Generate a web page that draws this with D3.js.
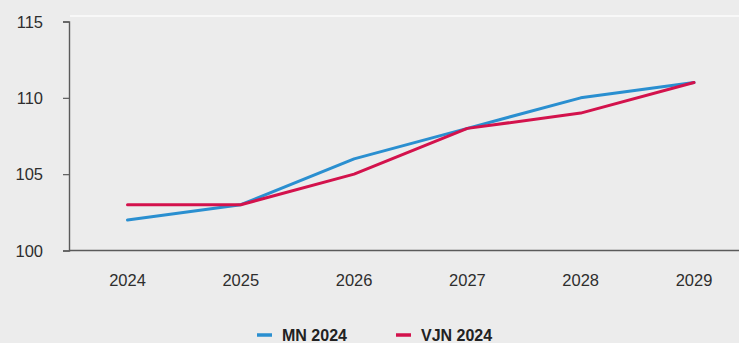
<!DOCTYPE html>
<html><head><meta charset="utf-8">
<script src="https://cdn.jsdelivr.net/npm/d3@7"></script>
<style>
html,body{margin:0;padding:0;background:#ececec;}
svg{display:block;font-family:"Liberation Sans",Arial,sans-serif;}
</style></head>
<body><svg id="c" width="739" height="343"></svg>
<script>
const years = ["2024","2025","2026","2027","2028","2029"];
const mn2024 = [102, 103, 106, 108, 110, 111];
const vjn2024 = [103, 103, 105, 108, 109, 111];
const yTicks = [100, 105, 110, 115];
const seriesNames = ["MN 2024", "VJN 2024"];
const seriesColors = ["#2a8fd0", "#d3124c"];

const svg = d3.select("#c");
svg.append("rect").attr("width",739).attr("height",343).attr("fill","#ececec");
svg.append("line").attr("x1",70).attr("x2",739).attr("y1",16).attr("y2",16)
  .attr("stroke","#f8f8f8").attr("stroke-width",2);

const x = d3.scalePoint().domain(years).range([127.5, 694]);
const y = d3.scaleLinear().domain([100, 115]).range([250.5, 21.5]);

const yAxis = svg.append("g").attr("transform","translate(69,0)")
  .call(d3.axisLeft(y).tickValues(yTicks).tickSize(6).tickPadding(20));
yAxis.select(".domain").attr("stroke","#5a5a5a").attr("stroke-width",1.4);
yAxis.selectAll(".tick line").attr("stroke","#5a5a5a").attr("stroke-width",1.2);
yAxis.selectAll(".tick text").attr("font-size",16.5).attr("fill","#2e2e2e")
  .attr("font-family","'Liberation Sans',Arial,sans-serif").attr("dy","0.35em");

svg.append("line").attr("x1",69).attr("x2",739).attr("y1",y(100)).attr("y2",y(100))
  .attr("stroke","#5a5a5a").attr("stroke-width",1.4);
svg.append("g").selectAll("text").data(years).join("text")
  .attr("x",d=>x(d)).attr("y",286).attr("text-anchor","middle")
  .attr("font-size",16.5).attr("fill","#2e2e2e").text(d=>d);

const line = d3.line().x((d,i)=>x(years[i])).y(d=>y(d));
[mn2024, vjn2024].forEach((s,i)=>{
  svg.append("path").datum(s).attr("d",line).attr("fill","none")
    .attr("stroke",seriesColors[i]).attr("stroke-width",3)
    .attr("stroke-linejoin","round").attr("stroke-linecap","round");
});

const legX = [257, 396];
seriesNames.forEach((n,i)=>{
  svg.append("line").attr("x1",legX[i]).attr("x2",legX[i]+15).attr("y1",335).attr("y2",335)
    .attr("stroke",seriesColors[i]).attr("stroke-width",3.5);
  svg.append("text").attr("x",legX[i]+25).attr("y",341).attr("font-size",16)
    .attr("font-weight","bold").attr("fill","#222").text(n);
});
</script></body></html>
